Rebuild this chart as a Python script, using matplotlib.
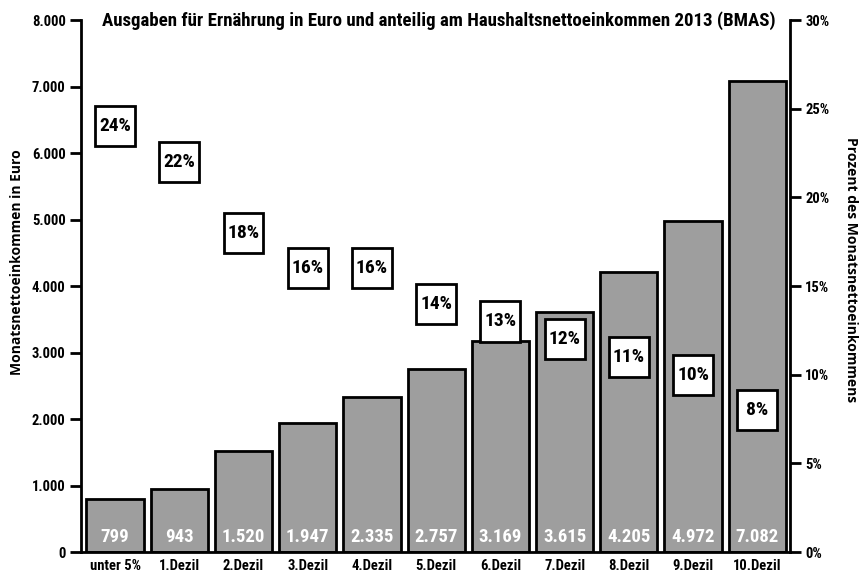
import matplotlib
matplotlib.use("Agg")
import matplotlib.pyplot as plt
from matplotlib import font_manager
from matplotlib.patches import Rectangle
from matplotlib.ticker import FuncFormatter

# pick a condensed font if one is installed
names = {f.name for f in font_manager.fontManager.ttflist}
fam = 'DejaVu Sans'
for c in ['Liberation Sans Narrow', 'Roboto Condensed', 'Open Sans Condensed', 'DejaVu Sans Condensed']:
    if c in names:
        fam = c
        break
plt.rcParams['font.family'] = [fam, 'DejaVu Sans']
plt.rcParams['font.stretch'] = 'condensed'
plt.rcParams['font.weight'] = 'bold'

# Data
categories = ['unter 5%', '1.Dezil', '2.Dezil', '3.Dezil', '4.Dezil', '5.Dezil',
              '6.Dezil', '7.Dezil', '8.Dezil', '9.Dezil', '10.Dezil']
income = [799, 943, 1520, 1947, 2335, 2757, 3169, 3615, 4205, 4972, 7082]
food_share = [24, 22, 18, 16, 16, 14, 13, 12, 11, 10, 8]

def de_num(v):
    return f"{int(v):,}".replace(",", ".")

fig = plt.figure(figsize=(8.59, 5.77), dpi=100)
ax = fig.add_axes([0.0943, 0.0433, 0.8254, 0.922])
x = list(range(len(categories)))

ax.bar(x, income, width=0.89, color='#9e9e9e', edgecolor='black', linewidth=2, zorder=2)
for i, v in zip(x, income):
    ax.annotate(de_num(v), (i, 0), xytext=(0, 11), textcoords='offset points',
                ha='center', va='center', color='white', fontsize=13.5, fontweight='bold', zorder=3)

ax.set_xlim(-0.53, 10.51)
ax.set_ylim(0, 8000)
ax.set_yticks(range(0, 8001, 1000))
ax.yaxis.set_major_formatter(FuncFormatter(lambda v, p: de_num(v)))
ax.set_xticks(x)
ax.set_xticklabels(categories, fontsize=10.5, fontweight='bold')
ax.tick_params(axis='x', length=0, pad=5)
ax.tick_params(axis='y', length=8, width=2, labelsize=10.5, pad=3)
ax.spines['top'].set_visible(False)
ax.spines['right'].set_visible(False)
for s in ['left', 'bottom']:
    ax.spines[s].set_linewidth(2)
ax.set_ylabel('Monatsnettoeinkommen in Euro', fontsize=10, fontweight='bold',
              family=['Open Sans', 'DejaVu Sans'], fontstretch='normal', va='center')
ax.yaxis.set_label_coords(-0.090, 0.545)

ax2 = ax.twinx()
ax2.set_ylim(0, 30)
ax2.set_yticks(range(0, 31, 5))
ax2.yaxis.set_major_formatter(FuncFormatter(lambda v, p: f"{int(v)}%"))
ax2.tick_params(axis='y', length=8, width=2, labelsize=10.5, pad=3)
for s in ['top', 'left', 'bottom']:
    ax2.spines[s].set_visible(False)
ax2.spines['right'].set_linewidth(2)
ax2.set_ylabel('Prozent des Monatsnettoeinkommens', fontsize=10, fontweight='bold',
               rotation=270, family=['Open Sans', 'DejaVu Sans'], fontstretch='normal',
               va='center')
ax2.yaxis.set_label_coords(1.086, 0.53)

# percent boxes
bw, bh = 0.62, 2.26
for i, p in zip(x, food_share):
    ax2.add_patch(Rectangle((i - bw / 2, p - bh / 2), bw, bh, facecolor='white',
                            edgecolor='black', linewidth=2, zorder=4))
    ax2.text(i, p, f"{p}%", ha='center', va='center', fontsize=14,
             fontweight='bold', zorder=5)

fig.text(0.511, 0.965, 'Ausgaben für Ernährung in Euro und anteilig am Haushaltsnettoeinkommen 2013 (BMAS)',
         ha='center', va='center', fontsize=13.6, fontweight='bold')

fig.savefig('out.png', dpi=100)
